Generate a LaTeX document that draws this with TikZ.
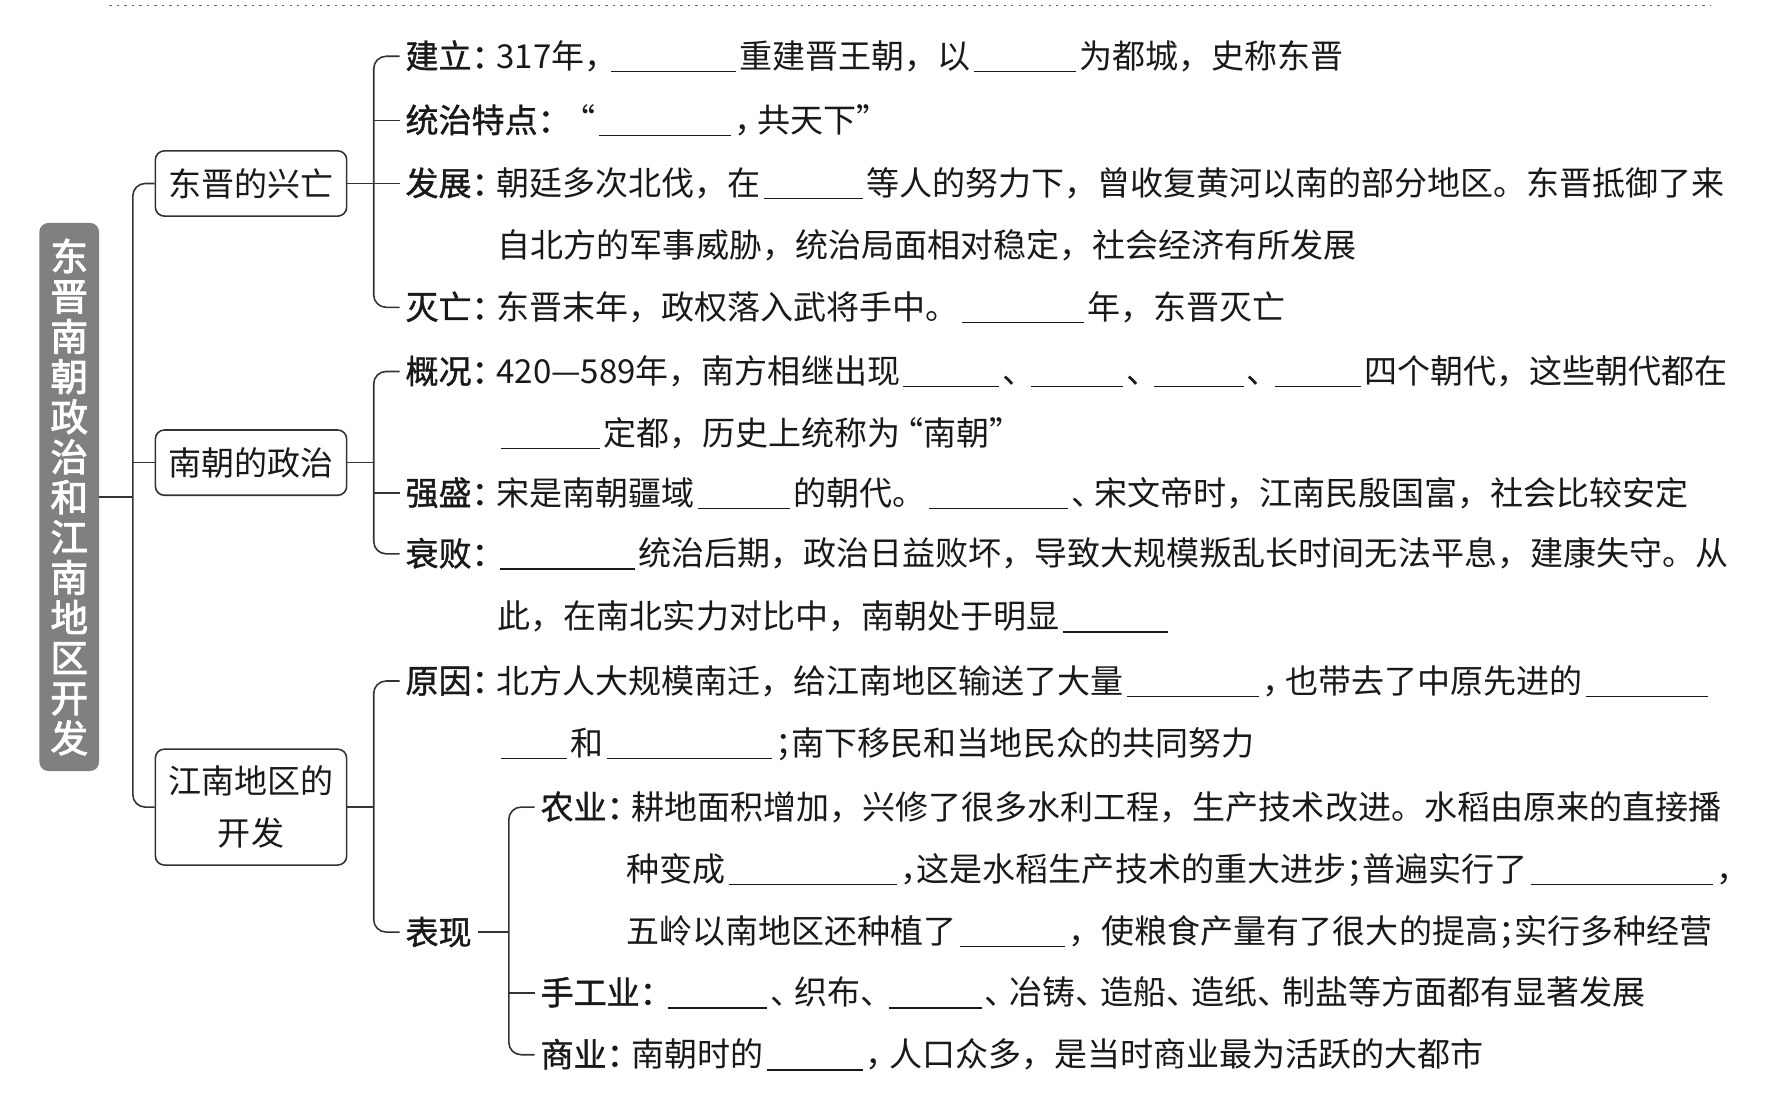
\documentclass[tikz,border=0pt]{standalone}
\usepackage{fontspec}
\setmainfont{Noto Sans CJK SC}
\newfontfamily\labfont{Noto Sans CJK SC}[FakeBold=1.2]
\newfontfamily\headfont{Noto Sans CJK SC}[FakeBold=2.5]
\newcommand{\blank}[1]{\hspace{0.1em}\rule[-0.12em]{#1em}{0.7pt}\hspace{0.1em}}
\newcommand{\tight}[2][0.3]{#2\hspace{-#1em}}
\newcommand{\lab}[1]{{\labfont #1}}

\begin{document}
\begin{tikzpicture}[x=0.02cm,y=-0.02cm,
    line/.style={anchor=west, inner sep=0pt, outer xsep=3pt, text=black!90,
        font=\fontsize{16.7pt}{20pt}\selectfont},
    topic/.style={draw=black!80, line width=0.8pt, rounded corners=0.16cm,
        minimum width=3.4cm, minimum height=1.16cm, align=center, text=black!90,
        font=\fontsize{16.7pt}{26.6pt}\selectfont},
    brk/.style={draw=black!80, line width=0.8pt, rounded corners=0.22cm}]

    \useasboundingbox (0,0) rectangle (1568,978);

    \draw[black!60, line width=0.6pt, dash pattern=on 1.2pt off 2.6pt] (97,5) -- (1520,5);

    \node[fill=black!50, rounded corners=0.16cm, minimum width=1.06cm, minimum height=9.74cm,
        text=white, align=center, font=\headfont\fontsize{19pt}{20.3pt}\selectfont]
        (root) at (61.5,441.5) {东\\晋\\南\\朝\\政\\治\\和\\江\\南\\地\\区\\开\\发};

    \node[topic] (dj) at (223,163) {东晋的兴亡};
    \node[topic] (nc) at (223,411) {南朝的政治};
    \node[topic, minimum height=2.06cm] (jn) at (223,717) {江南地区的\\开发};

    \coordinate (t0) at (118,0);
    \coordinate (t1) at (332,0);
    \coordinate (t2) at (452,0);

    \draw[brk] (dj.west) -- (dj.west -| t0) |- (jn.west);
    \draw[brk] (nc.west) -- (nc.west -| t0);
    \draw[brk] (root.east) -- (root.east -| t0);

    \node[line] (jl) at (355,50) {\lab{建立\tight[0.25]{：}}317年\tight{，}\blank{3.8}重建晋王朝，以\blank{3.1}为都城，史称东晋};
    \node[line] (tz) at (355,107) {\lab{统治特点\tight[0.25]{：}}“\blank{4.0}\tight{，}共天下”};
    \node[line] (fz) at (355,163) {\lab{发展\tight[0.25]{：}}朝廷多次北伐，在\blank{3.0}等人的努力下，曾收复黄河以南的部分地区。东晋抵御了来};
    \node[line] (fz2) at (437,218) {自北方的军事威胁，统治局面相对稳定，社会经济有所发展};
    \node[line] (mw) at (355,273) {\lab{灭亡\tight[0.25]{：}}东晋末年，政权落入武将手中。\blank{3.7}年，东晋灭亡};

    \draw[brk] (jl.west) -- (jl.west -| t1) |- (mw.west);
    \draw[brk] (tz.west) -- (tz.west -| t1);
    \draw[brk] (dj.east) -- (fz.west);

    \node[line] (gk) at (355,330) {\lab{概况\tight[0.25]{：}}420—589年，南方相继出现\blank{2.9}\tight[0.25]{、}\blank{2.8}\tight[0.25]{、}\blank{2.7}\tight[0.25]{、}\blank{2.6}四个朝代，这些朝代都在};
    \node[line] (gk2) at (437,385) {\blank{3.0}定都，历史上统称为\hspace{-0.3em}“南朝”};
    \node[line] (qs) at (355,438) {\lab{强盛\tight[0.25]{：}}宋是南朝疆域\blank{2.8}的朝代。\blank{4.2}\tight{、}宋文帝时，江南民殷国富，社会比较安定};
    \node[line] (sb) at (355,492) {\lab{衰败\tight[0.25]{：}}\blank{4.1}统治后期，政治日益败坏，导致大规模叛乱长时间无法平息，建康失守。从};
    \node[line] (sb2) at (437,548) {此，在南北实力对比中，南朝处于明显\blank{3.2}};

    \draw[brk] (gk.west) -- (gk.west -| t1) |- (sb.west);
    \draw[brk] (qs.west) -- (qs.west -| t1);
    \draw[brk] (nc.east) -- (nc.east -| t1);

    \node[line] (yy) at (355,605) {\lab{原因\tight[0.25]{：}}北方人大规模南迁，给江南地区输送了大量\blank{4.0}\tight{，}也带去了中原先进的\blank{3.7}};
    \node[line] (yy2) at (437,661) {\blank{2.0}和\blank{5.0}\tight[0.5]{；}南下移民和当地民众的共同努力};
    \node[line] (bx) at (355,828) {\lab{表现}};

    \draw[brk] (yy.west) -- (yy.west -| t1) |- (bx.west);
    \draw[brk] (jn.east) -- (jn.east -| t1);

    \node[line] (ny) at (475,717) {\lab{农业\tight[0.25]{：}}耕地面积增加，兴修了很多水利工程，生产技术改进。水稻由原来的直接播};
    \node[line] (ny2) at (551,773) {种变成\blank{5.1}\tight[0.5]{，}这是水稻生产技术的重大进步\tight[0.5]{；}普遍实行了\blank{5.5}，};
    \node[line] (ny3) at (551,828) {五岭以南地区还种植了\blank{3.2}，使粮食产量有了很大的提高\tight[0.5]{；}实行多种经营};
    \node[line] (sg) at (475,882) {\lab{手工业\tight[0.25]{：}}\blank{3.0}\tight[0.25]{、}织布\tight[0.25]{、}\blank{2.8}\tight[0.25]{、}冶铸\tight[0.25]{、}造船\tight[0.25]{、}造纸\tight[0.25]{、}制盐等方面都有显著发展};
    \node[line] (sy) at (475,937) {\lab{商业\tight[0.25]{：}}南朝时的\blank{2.9}\tight{，}人口众多，是当时商业最为活跃的大都市};

    \draw[brk] (ny.west) -- (ny.west -| t2) |- (sy.west);
    \draw[brk] (sg.west) -- (sg.west -| t2);
    \draw[brk] (bx.east) -- (bx.east -| t2);
\end{tikzpicture}
\end{document}
